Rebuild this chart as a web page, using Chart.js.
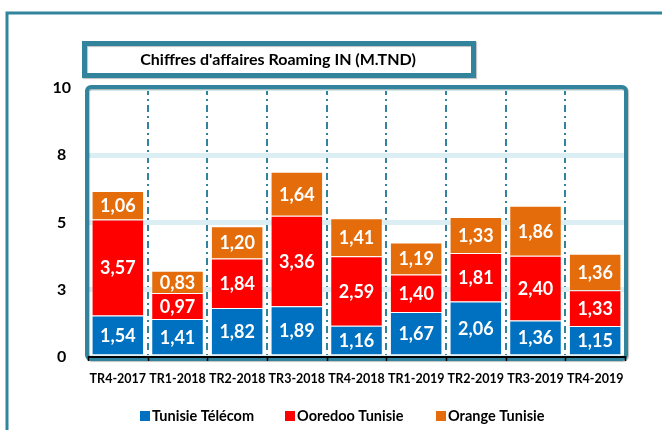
<!DOCTYPE html>
<html>
<head>
<meta charset="utf-8">
<script src="https://cdn.jsdelivr.net/npm/chart.js@4"></script>
<style>
  html, body { margin: 0; padding: 0; background: #fff; }
  #wrap { width: 662px; height: 430px; position: relative; }
</style>
</head>
<body>
<div id="wrap"><canvas id="roamingChart" width="662" height="430"></canvas></div>
<script>
// Data
const quarters = ['TR4-2017', 'TR1-2018', 'TR2-2018', 'TR3-2018', 'TR4-2018', 'TR1-2019', 'TR2-2019', 'TR3-2019', 'TR4-2019'];
const tunisieTelecom = [1.54, 1.41, 1.82, 1.89, 1.16, 1.67, 2.06, 1.36, 1.15];
const ooredooTunisie = [3.57, 0.97, 1.84, 3.36, 2.59, 1.40, 1.81, 2.40, 1.33];
const orangeTunisie = [1.06, 0.83, 1.20, 1.64, 1.41, 1.19, 1.33, 1.86, 1.36];
const seriesNames = ['Tunisie Télécom', 'Ooredoo Tunisie', 'Orange Tunisie'];
const chartTitle = "Chiffres d'affaires Roaming IN (M.TND)";

const TEAL = '#31849B';
const FONT = 'Lato, "Open Sans", sans-serif';

// Format value with French decimal comma
function formatValue(v) {
    return v.toFixed(2).replace('.', ',');
}

// Frames, title box, axis line, value labels and legend
const decorPlugin = {
    id: 'decor',
    beforeDraw(chart) {
        const ctx = chart.ctx;
        ctx.save();
        // outer frame
        ctx.strokeStyle = TEAL;
        ctx.lineWidth = 3;
        ctx.beginPath();
        ctx.moveTo(7, 440);
        ctx.lineTo(7, 13);
        ctx.lineTo(670, 13);
        ctx.stroke();

        // title box
        ctx.shadowColor = 'rgba(0,0,0,0.25)';
        ctx.shadowOffsetX = 1;
        ctx.shadowOffsetY = 1;
        ctx.shadowBlur = 1;
        ctx.lineWidth = 5;
        ctx.strokeRect(84.5, 43.5, 389, 32);
        ctx.shadowColor = 'transparent';
        ctx.fillStyle = '#000';
        ctx.font = 'bold 16px ' + FONT;
        ctx.textAlign = 'center';
        ctx.textBaseline = 'middle';
        ctx.fillText(chartTitle, 278, 60);
        ctx.restore();
    },
    beforeDatasetsDraw(chart) {
        const ctx = chart.ctx;
        const a = chart.chartArea;
        ctx.save();
        // plot frame
        ctx.strokeStyle = TEAL;
        ctx.lineWidth = 4;
        ctx.shadowColor = 'rgba(0,0,0,0.25)';
        ctx.shadowOffsetX = 1;
        ctx.shadowOffsetY = 1;
        ctx.shadowBlur = 1;
        ctx.beginPath();
        ctx.roundRect(a.left - 1, a.top - 1, a.right - a.left + 2, a.bottom - a.top + 3, 4);
        ctx.stroke();
        ctx.shadowColor = 'transparent';

        // black category axis with ticks
        ctx.strokeStyle = '#000';
        ctx.lineWidth = 2;
        ctx.beginPath();
        ctx.moveTo(a.left, a.bottom);
        ctx.lineTo(a.right, a.bottom);
        ctx.stroke();
        const xs = chart.scales.x;
        const step = (a.right - a.left) / quarters.length;
        ctx.lineWidth = 1.5;
        for (let i = 0; i <= quarters.length; i++) {
            const x = Math.round(xs.left + step * i) + 0.5;
            ctx.beginPath();
            ctx.moveTo(x, a.bottom - 1);
            ctx.lineTo(x, a.bottom + 4);
            ctx.stroke();
        }
        ctx.restore();
    },
    afterDatasetsDraw(chart) {
        const ctx = chart.ctx;
        ctx.save();
        ctx.fillStyle = '#fff';
        ctx.font = 'bold 18px ' + FONT;
        ctx.textAlign = 'center';
        ctx.textBaseline = 'middle';
        chart.data.datasets.forEach((ds, di) => {
            const meta = chart.getDatasetMeta(di);
            meta.data.forEach((bar, i) => {
                const midY = (bar.y + bar.base) / 2;
                ctx.fillText(formatValue(ds.data[i]), bar.x, midY + 1);
            });
        });

        // legend
        const legendX = [140, 285, 436];
        ctx.font = 'bold 14.5px ' + FONT;
        ctx.textAlign = 'left';
        chart.data.datasets.forEach((ds, di) => {
            const lx = legendX[di];
            ctx.fillStyle = ds.backgroundColor;
            ctx.fillRect(lx, 411, 10, 10);
            ctx.fillStyle = '#000';
            ctx.fillText(ds.label, lx + 12, 416);
        });
        ctx.restore();
    }
};

const ctx = document.getElementById('roamingChart').getContext('2d');

const roamingChart = new Chart(ctx, {
    type: 'bar',
    data: {
        labels: quarters,
        datasets: [
            {
                label: seriesNames[0],
                data: tunisieTelecom,
                backgroundColor: '#0070C0',
                borderColor: 'rgba(255,255,255,0.45)',
                borderWidth: 1
            },
            {
                label: seriesNames[1],
                data: ooredooTunisie,
                backgroundColor: '#FF0000',
                borderColor: 'rgba(255,255,255,0.45)',
                borderWidth: 1
            },
            {
                label: seriesNames[2],
                data: orangeTunisie,
                backgroundColor: '#E46C0A',
                borderColor: 'rgba(255,255,255,0.45)',
                borderWidth: 1
            }
        ]
    },
    options: {
        responsive: false,
        animation: false,
        devicePixelRatio: 1,
        layout: {
            padding: { left: 0, right: 37, top: 88, bottom: 0 }
        },
        datasets: {
            bar: {
                categoryPercentage: 1,
                barPercentage: 0.88
            }
        },
        plugins: {
            legend: { display: false },
            title: { display: false },
            tooltip: { enabled: false }
        },
        scales: {
            x: {
                stacked: true,
                afterFit: function(scale) { scale.height = 73; },
                border: { display: false, dash: [7, 4, 2, 4] },
                grid: {
                    offset: true,
                    color: TEAL,
                    lineWidth: 2,
                    drawTicks: false
                },
                ticks: {
                    color: '#000',
                    padding: 14,
                    autoSkip: false,
                    maxRotation: 0,
                    font: { family: FONT, size: 12.5, weight: 'bold' }
                }
            },
            y: {
                stacked: true,
                min: 0,
                max: 10,
                afterFit: function(scale) { scale.width = 88; },
                border: { display: false },
                grid: {
                    color: '#DAEEF3',
                    lineWidth: 5,
                    drawTicks: false
                },
                ticks: {
                    stepSize: 2.5,
                    color: '#000',
                    padding: 17,
                    crossAlign: 'center',
                    font: { family: FONT, size: 16, weight: 'bold' },
                    callback: function(value) {
                        return Math.round(value);
                    }
                }
            }
        }
    },
    plugins: [decorPlugin]
});
</script>
</body>
</html>
